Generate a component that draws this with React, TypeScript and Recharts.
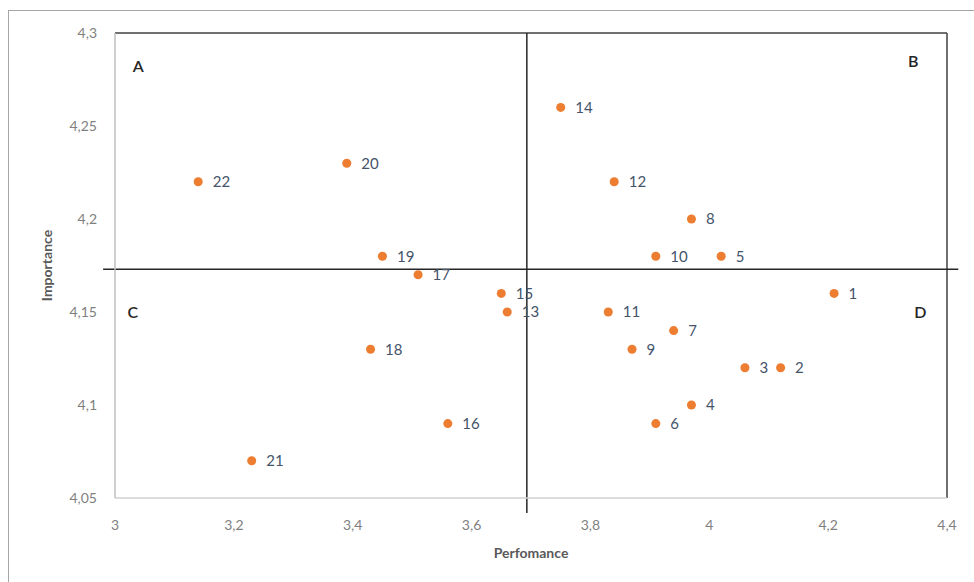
import { ScatterChart, Scatter, XAxis, YAxis, ReferenceLine, ReferenceDot, LabelList } from 'recharts';

// items 1..22
const ids = ['1', '2', '3', '4', '5', '6', '7', '8', '9', '10', '11', '12', '13', '14', '15', '16', '17', '18', '19', '20', '21', '22'];
const performance = [4.21, 4.12, 4.06, 3.97, 4.02, 3.91, 3.94, 3.97, 3.87, 3.91, 3.83, 3.84, 3.66, 3.75, 3.65, 3.56, 3.51, 3.43, 3.45, 3.39, 3.23, 3.14];
const importance = [4.16, 4.12, 4.12, 4.1, 4.18, 4.09, 4.14, 4.2, 4.13, 4.18, 4.15, 4.22, 4.15, 4.26, 4.16, 4.09, 4.17, 4.13, 4.18, 4.23, 4.07, 4.22];

const xTicks = [3, 3.2, 3.4, 3.6, 3.8, 4, 4.2, 4.4];
const yTicks = [4.05, 4.1, 4.15, 4.2, 4.25, 4.3];

// quadrant split (mean values)
const meanPerf = 3.693;
const meanImp = 4.173;

const quadrants = [
  { name: 'A', x: 3.039, y: 4.282 },
  { name: 'B', x: 4.343, y: 4.285 },
  { name: 'C', x: 3.03, y: 4.15 },
  { name: 'D', x: 4.355, y: 4.15 },
];

const points = ids.map((id, i) => ({ id, x: performance[i], y: importance[i] }));

const comma = (v: number) => String(v).replace('.', ',');
const font = 'Lato, "Open Sans", sans-serif';

export default function App() {
  return (
    <div
      style={{
        position: 'absolute',
        left: 8,
        top: 10,
        width: 966,
        height: 572,
        borderTop: '1px solid #a6a6a6',
        borderLeft: '1px solid #a6a6a6',
        background: '#fff',
        fontFamily: font,
      }}
    >
      <ScatterChart width={964} height={570} margin={{ top: 22, right: 26, bottom: 43, left: 36 }}>
        <XAxis
          type="number"
          dataKey="x"
          domain={[3, 4.4]}
          ticks={xTicks}
          tickFormatter={comma}
          tickLine={false}
          axisLine={{ stroke: '#d0d0d0', strokeWidth: 1.5 }}
          tick={{ fontSize: 14, fill: '#7f7f7f', fontFamily: font }}
          tickMargin={16}
          height={40}
          label={{ value: 'Perfomance', position: 'bottom', offset: 10, style: { fontSize: 14, fontWeight: 700, fill: '#595959', fontFamily: font } }}
        />
        <YAxis
          type="number"
          dataKey="y"
          domain={[4.05, 4.3]}
          ticks={yTicks}
          tickFormatter={comma}
          tickLine={false}
          axisLine={{ stroke: '#bfbfbf', strokeWidth: 1.5 }}
          tick={{ fontSize: 14, fill: '#7f7f7f', fontFamily: font }}
          tickMargin={12}
          width={70}
          label={{ value: 'Importance', angle: -90, position: 'insideLeft', offset: 2, style: { textAnchor: 'middle', fontSize: 14, fontWeight: 700, fill: '#595959', fontFamily: font } }}
        />
        <ReferenceLine y={4.3} stroke="#404040" strokeWidth={1.5} />
        <ReferenceLine x={4.4} stroke="#404040" strokeWidth={1.5} />
        <ReferenceLine
          segment={[{ x: meanPerf, y: 4.3 }, { x: meanPerf, y: 4.042 }]}
          stroke="#262626"
          strokeWidth={1.5}
          ifOverflow="visible"
        />
        <ReferenceLine
          segment={[{ x: 2.98, y: meanImp }, { x: 4.419, y: meanImp }]}
          stroke="#262626"
          strokeWidth={1.5}
          ifOverflow="visible"
        />
        {quadrants.map((q) => (
          <ReferenceDot
            key={q.name}
            x={q.x}
            y={q.y}
            r={0}
            stroke="none"
            fill="none"
            label={{ value: q.name, position: 'center', style: { fontSize: 16, fontWeight: 600, fill: '#262626', fontFamily: font } }}
          />
        ))}
        <Scatter data={points} fill="#ed7d31" isAnimationActive={false} shape="circle">
          <LabelList
            dataKey="id"
            position="right"
            offset={10}
            style={{ fontSize: 15, fill: '#44546a', fontFamily: font }}
          />
        </Scatter>
      </ScatterChart>
    </div>
  );
}
